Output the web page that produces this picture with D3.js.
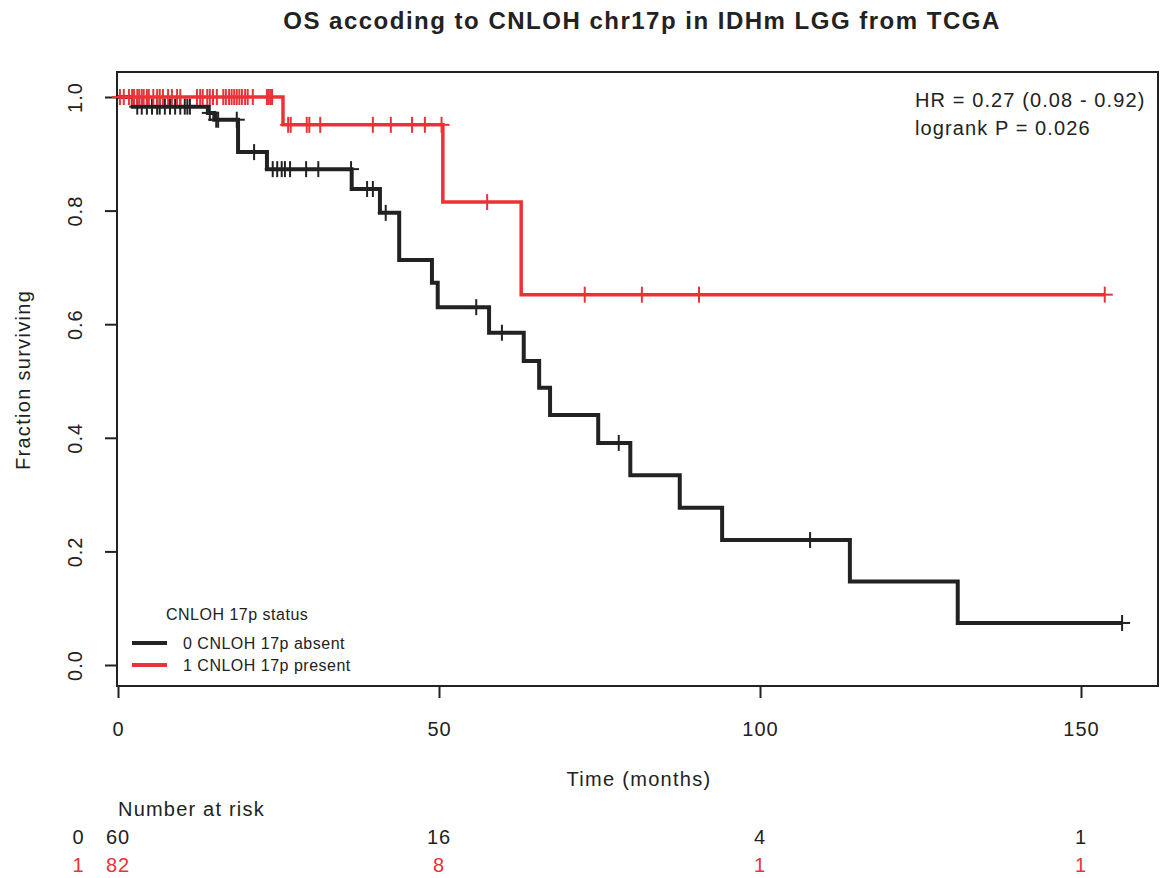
<!DOCTYPE html>
<html>
<head>
<meta charset="utf-8">
<title>OS CNLOH 17p</title>
<script src="https://d3js.org/d3.v7.min.js"></script>
<style>
  body { margin: 0; background: #fff; }
  text { font-family: "Liberation Sans", Arial, sans-serif; fill: #222; }
</style>
</head>
<body>
<div id="chart"></div>
<script>
// step curves (time in months, survival after the drop)
var blackTimes = [2.3, 14.0, 15.0, 18.7, 23.2, 36.4, 40.8, 43.8, 48.9, 49.8, 57.8, 63.2, 65.6, 67.3, 74.8, 79.8, 87.5, 94.1, 114.0, 130.8];
var blackSurv  = [0.983, 0.972, 0.960, 0.903, 0.873, 0.838, 0.796, 0.713, 0.673, 0.630, 0.585, 0.535, 0.488, 0.440, 0.391, 0.334, 0.277, 0.220, 0.147, 0.074];
var blackEnd = 156.4;
var blackCensor = [3.0, 3.7, 4.5, 5.3, 6.1, 6.5, 7.3, 8.1, 8.9, 9.7, 10.4, 10.8, 11.2, 14.3, 15.3, 15.6, 18.5, 21.2,
  24.1, 24.8, 25.5, 26.0, 26.8, 29.3, 31.2, 36.3, 38.8, 39.7, 41.7, 55.8, 59.8, 78.0, 107.8, 156.4];

var redTimes = [25.7, 50.6, 62.8];
var redSurv  = [0.951, 0.815, 0.652];
var redEnd = 153.7;
var redCensor = [0.3, 0.9, 1.7, 2.2, 2.5, 3.0, 3.3, 3.7, 4.0, 4.5, 4.8, 5.5, 6.1, 6.5, 7.0, 7.8, 8.4, 9.2, 9.7,
  12.3, 12.8, 13.2, 13.9, 14.3, 14.8, 15.4, 16.4, 16.8, 17.3, 17.7, 18.1, 18.5, 18.9, 19.3, 19.8, 20.2, 21.0,
  23.2, 23.5, 23.8, 24.0, 26.5, 26.9, 29.4, 29.8, 31.5, 39.7, 42.5, 45.8, 47.8, 50.4, 57.5, 72.7, 81.6, 90.5, 153.7];

var xTicks = [0, 50, 100, 150];
var yTicks = [0, 0.2, 0.4, 0.6, 0.8, 1.0];
var riskGroups = ["0", "1"];
var risk0 = [60, 16, 4, 1];
var risk1 = [82, 8, 1, 1];
var legendLabels = ["0 CNLOH 17p absent", "1 CNLOH 17p present"];

var BLACK = "#222222";
var RED = "#ec3237";

var svg = d3.select('#chart')
  .append('svg')
  .attr('width', 1160)
  .attr('height', 878);

var x = d3.scaleLinear().domain([0, 150]).range([118, 1081]);
var y = d3.scaleLinear().domain([0, 1]).range([665, 97]);

// title
svg.append('text')
  .attr('x', 642)
  .attr('y', 29)
  .attr('text-anchor', 'middle')
  .style('font-size', '24px')
  .style('font-weight', 'bold')
  .style('letter-spacing', '1.5px')
  .text('OS accoding to CNLOH chr17p in IDHm LGG from TCGA');

// plot box
svg.append('rect')
  .attr('x', 117).attr('y', 72)
  .attr('width', 1041).attr('height', 614)
  .attr('fill', 'none')
  .attr('stroke', BLACK)
  .attr('stroke-width', 2);

// y axis
var yAxis = svg.append('g')
  .attr('transform', 'translate(117,0)')
  .call(d3.axisLeft(y).tickValues(yTicks).tickSize(12).tickFormat(d3.format('.1f')));
yAxis.select('.domain').remove();
yAxis.selectAll('line').attr('stroke', BLACK).attr('stroke-width', 2);
yAxis.selectAll('text')
  .attr('x', 0).attr('dy', 0)
  .attr('transform', 'translate(-35,0) rotate(-90)')
  .attr('text-anchor', 'middle')
  .attr('fill', BLACK)
  .style('font-size', '20px')
  .style('letter-spacing', '1px')
  .style('font-family', '"Liberation Sans", Arial, sans-serif');

// x axis
var xAxis = svg.append('g')
  .attr('transform', 'translate(0,686)')
  .call(d3.axisBottom(x).tickValues(xTicks).tickSize(12));
xAxis.select('.domain').remove();
xAxis.selectAll('line').attr('stroke', BLACK).attr('stroke-width', 2);
xAxis.selectAll('text')
  .attr('y', 50).attr('dy', 0)
  .attr('fill', BLACK)
  .style('font-size', '20px')
  .style('letter-spacing', '1px')
  .style('font-family', '"Liberation Sans", Arial, sans-serif');

// axis titles
svg.append('text')
  .attr('transform', 'translate(30,380) rotate(-90)')
  .attr('text-anchor', 'middle')
  .style('font-size', '20px')
  .style('letter-spacing', '1.3px')
  .text('Fraction surviving');

svg.append('text')
  .attr('x', 639).attr('y', 786)
  .attr('text-anchor', 'middle')
  .style('font-size', '20px')
  .style('letter-spacing', '1.3px')
  .text('Time (months)');

// build step points for a group
var stepPoints = function(times, surv, end) {
  var pts = [[0, 1]];
  times.forEach(function(t, i) { pts.push([t, surv[i]]); });
  pts.push([end, surv[surv.length - 1]]);
  return pts;
};

// survival at time t (right-continuous)
var survAt = function(times, surv, t) {
  var s = 1;
  times.forEach(function(tt, i) { if (tt <= t) s = surv[i]; });
  return s;
};

var line = d3.line()
  .x(function(d) { return x(d[0]); })
  .y(function(d) { return y(d[1]); })
  .curve(d3.curveStepAfter);

var drawGroup = function(times, surv, end, censor, color, width) {
  var g = svg.append('g');
  g.append('path')
    .datum(stepPoints(times, surv, end))
    .attr('d', line)
    .attr('fill', 'none')
    .attr('stroke', color)
    .attr('stroke-width', width);

  // censor marks as "+" signs
  var marks = g.selectAll('.mark')
    .data(censor)
    .enter()
    .append('g')
    .attr('transform', function(d) {
      return 'translate(' + x(d) + ',' + y(survAt(times, surv, d)) + ')';
    });
  marks.append('line')
    .attr('x1', 0).attr('x2', 0).attr('y1', -8).attr('y2', 8)
    .attr('stroke', color).attr('stroke-width', 2);
  marks.append('line')
    .attr('x1', -8).attr('x2', 8).attr('y1', 0).attr('y2', 0)
    .attr('stroke', color).attr('stroke-width', 2);
};

drawGroup(blackTimes, blackSurv, blackEnd, blackCensor, BLACK, 4);
drawGroup(redTimes, redSurv, redEnd, redCensor, RED, 3.5);

// HR annotation
svg.append('text')
  .attr('x', 915).attr('y', 107)
  .style('font-size', '20px')
  .style('letter-spacing', '1.1px')
  .text('HR = 0.27 (0.08 - 0.92)');
svg.append('text')
  .attr('x', 915).attr('y', 135)
  .style('font-size', '20px')
  .style('letter-spacing', '1.1px')
  .text('logrank P = 0.026');

// legend
svg.append('text')
  .attr('x', 166).attr('y', 620)
  .style('font-size', '16px')
  .style('letter-spacing', '0.5px')
  .text('CNLOH 17p status');

var legendColors = [BLACK, RED];
legendLabels.forEach(function(lab, i) {
  var ly = 643 + i * 22;
  svg.append('line')
    .attr('x1', 132).attr('x2', 167)
    .attr('y1', ly).attr('y2', ly)
    .attr('stroke', legendColors[i])
    .attr('stroke-width', 4);
  svg.append('text')
    .attr('x', 183).attr('y', ly + 6)
    .style('font-size', '16px')
    .style('letter-spacing', '0.5px')
    .text(lab);
});

// number at risk table
svg.append('text')
  .attr('x', 118).attr('y', 816)
  .style('font-size', '20px')
  .style('letter-spacing', '1.2px')
  .text('Number at risk');

[risk0, risk1].forEach(function(row, i) {
  var ry = 844 + i * 28;
  var col = i === 0 ? BLACK : RED;
  svg.append('text')
    .attr('x', 78).attr('y', ry)
    .attr('text-anchor', 'middle')
    .style('font-size', '20px')
    .style('fill', col)
    .text(riskGroups[i]);
  svg.selectAll('.risk' + i)
    .data(row)
    .enter()
    .append('text')
    .attr('x', function(d, j) { return x(xTicks[j]); })
    .attr('y', ry)
    .attr('text-anchor', 'middle')
    .style('font-size', '20px')
    .style('letter-spacing', '1px')
    .style('fill', col)
    .text(function(d) { return d; });
});
</script>
</body>
</html>
